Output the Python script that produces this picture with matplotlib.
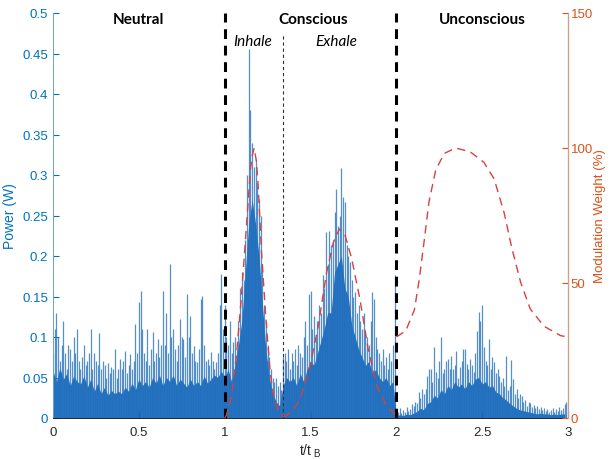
import numpy as np
import matplotlib
matplotlib.use("Agg")
import matplotlib.pyplot as plt
from matplotlib.ticker import FormatStrFormatter

plt.rcParams['font.family'] = ['Liberation Sans', 'DejaVu Sans']
plt.rcParams['mathtext.default'] = 'regular'

blue = '#0072BD'
orange = '#D95319'

# power spikes, one per 0.01 t/t_B from 0 to 2.99
power = [
    # neutral
    0.08, 0.11, 0.13, 0.10, 0.07, 0.09, 0.12, 0.08, 0.06, 0.09,
    0.085, 0.07, 0.10, 0.08, 0.11, 0.07, 0.06, 0.075, 0.09, 0.065,
    0.07, 0.08, 0.11, 0.06, 0.08, 0.07, 0.065, 0.105, 0.06, 0.07,
    0.065, 0.05, 0.068, 0.055, 0.063, 0.06, 0.085, 0.05, 0.06, 0.073,
    0.06, 0.07, 0.083, 0.055, 0.065, 0.079, 0.06, 0.07, 0.116, 0.08,
    0.143, 0.157, 0.11, 0.08, 0.07, 0.11, 0.065, 0.085, 0.106, 0.07,
    0.08, 0.097, 0.075, 0.09, 0.157, 0.09, 0.13, 0.08, 0.19, 0.10,
    0.11, 0.085, 0.07, 0.09, 0.122, 0.10, 0.097, 0.075, 0.153, 0.10,
    0.126, 0.08, 0.089, 0.07, 0.069, 0.085, 0.147, 0.151, 0.09, 0.07,
    0.073, 0.065, 0.081, 0.07, 0.06, 0.069, 0.08, 0.139, 0.178, 0.11,
    # conscious: inhale
    0.14, 0.10, 0.09, 0.12, 0.08, 0.094, 0.10, 0.085, 0.12, 0.16,
    0.18, 0.17, 0.22, 0.30, 0.455, 0.38, 0.34, 0.31, 0.32, 0.29,
    0.27, 0.25, 0.19, 0.14, 0.12, 0.09, 0.075, 0.06, 0.05, 0.045,
    0.05, 0.04, 0.045, 0.035, 0.075, 0.08, 0.07, 0.085, 0.06, 0.08,
    # conscious: exhale
    0.07, 0.085, 0.065, 0.09, 0.08, 0.075, 0.10, 0.12, 0.09, 0.153,
    0.157, 0.11, 0.126, 0.10, 0.12, 0.14, 0.13, 0.176, 0.16, 0.23,
    0.19, 0.231, 0.213, 0.22, 0.254, 0.283, 0.237, 0.25, 0.309, 0.273,
    0.267, 0.213, 0.20, 0.192, 0.17, 0.15, 0.155, 0.13, 0.14, 0.12,
    0.11, 0.13, 0.106, 0.10, 0.09, 0.12, 0.155, 0.147, 0.10, 0.085,
    0.08, 0.07, 0.085, 0.065, 0.075, 0.06, 0.08, 0.07, 0.09, 0.176,
    # unconscious
    0.01, 0.008, 0.012, 0.006, 0.01, 0.007, 0.013, 0.009, 0.011, 0.017,
    0.015, 0.02, 0.018, 0.032, 0.025, 0.036, 0.03, 0.036, 0.052, 0.06,
    0.06, 0.045, 0.088, 0.057, 0.05, 0.07, 0.10, 0.055, 0.06, 0.07,
    0.073, 0.06, 0.077, 0.06, 0.065, 0.083, 0.05, 0.063, 0.07, 0.085,
    0.085, 0.067, 0.06, 0.073, 0.065, 0.057, 0.08, 0.108, 0.131, 0.12,
    0.139, 0.088, 0.07, 0.065, 0.098, 0.06, 0.075, 0.069, 0.055, 0.06,
    0.052, 0.045, 0.05, 0.04, 0.077, 0.035, 0.04, 0.071, 0.048, 0.03,
    0.036, 0.025, 0.03, 0.027, 0.02, 0.022, 0.015, 0.02, 0.018, 0.014,
    0.016, 0.012, 0.015, 0.011, 0.013, 0.01, 0.012, 0.009, 0.011, 0.008,
    0.01, 0.012, 0.008, 0.011, 0.009, 0.013, 0.01, 0.012, 0.017, 0.02,
]

# dense lower band of the power trace, one value per 0.02 t/t_B
floor = [
    0.058, 0.045, 0.062, 0.048, 0.055, 0.04, 0.052, 0.045, 0.042, 0.052,
    0.038, 0.048, 0.033, 0.043, 0.03, 0.038, 0.028, 0.034, 0.03, 0.033,
    0.03, 0.038, 0.033, 0.043, 0.035, 0.048, 0.04, 0.045, 0.038, 0.05,
    0.043, 0.053, 0.04, 0.05, 0.045, 0.053, 0.04, 0.048, 0.043, 0.038,
    0.048, 0.04, 0.045, 0.04, 0.052, 0.043, 0.048, 0.053, 0.05, 0.058,
    0.05, 0.06, 0.045, 0.065, 0.09, 0.12, 0.18, 0.24, 0.27, 0.24,
    0.20, 0.14, 0.085, 0.05, 0.03, 0.02, 0.015, 0.04, 0.05, 0.045,
    0.05, 0.04, 0.055, 0.045, 0.06, 0.07, 0.065, 0.08, 0.095, 0.11,
    0.13, 0.13, 0.18, 0.19, 0.20, 0.16, 0.15, 0.115, 0.10, 0.085,
    0.075, 0.065, 0.07, 0.055, 0.06, 0.05, 0.045, 0.05, 0.04, 0.045,
    0.003, 0.004, 0.003, 0.005, 0.004, 0.006, 0.008, 0.012, 0.01, 0.018,
    0.02, 0.028, 0.025, 0.035, 0.03, 0.04, 0.035, 0.045, 0.038, 0.042,
    0.036, 0.045, 0.04, 0.048, 0.05, 0.042, 0.045, 0.038, 0.04, 0.032,
    0.03, 0.025, 0.022, 0.018, 0.015, 0.012, 0.01, 0.009, 0.008, 0.007,
    0.006, 0.005, 0.006, 0.005, 0.005, 0.004, 0.005, 0.004, 0.005, 0.005,
]

# modulation weight (%) for each breathing phase
inhale_t = [1.0, 1.01, 1.04, 1.07, 1.10, 1.13, 1.15, 1.16, 1.172, 1.185,
            1.195, 1.215, 1.24, 1.265, 1.285, 1.31, 1.34]
inhale_w = [0, 1, 8, 24, 47, 74, 92, 97, 100, 95, 86, 61, 37, 17, 8, 3, 0.5]
exhale_t = [1.34, 1.361, 1.40, 1.439, 1.497, 1.545, 1.594, 1.633, 1.668,
            1.70, 1.74, 1.788, 1.836, 1.885, 1.943, 1.99, 2.0]
exhale_w = [0.5, 1, 3, 7, 19, 34, 54, 65, 70, 68, 59, 44, 25.5, 12, 4.5,
            1.5, 1]
uncon_t = [2.0, 2.055, 2.105, 2.134, 2.163, 2.19, 2.23, 2.28, 2.345, 2.43,
           2.51, 2.57, 2.628, 2.674, 2.724, 2.78, 2.86, 2.957, 3.0]
uncon_w = [30, 32.3, 40, 51.5, 66, 80, 92, 98, 100, 98.6, 94.7, 88.5, 76,
           62.6, 50.3, 40.4, 34, 30.5, 30]

phase_bounds = [1.0, 2.0]
inhale_end = 1.34

t = np.arange(len(power)) * 0.01
floor_t = np.arange(len(floor)) * 0.02

fig = plt.figure(figsize=(6.1, 4.6), dpi=100)
ax = fig.add_axes([53 / 610, 1 - 419 / 460, 515 / 610, 405 / 460])
ax2 = ax.twinx()

ax.fill_between(floor_t, 0, floor, color='#1f6fbf', lw=0)
ax.vlines(t, 0, power, colors='#2a74bf', lw=0.9, alpha=0.8)

for xb in phase_bounds:
    ax.plot([xb, xb], [0, 0.5], color='black', lw=2.2,
            linestyle=(0, (3.2, 2.2)), zorder=3)
ax.plot([inhale_end, inhale_end], [0, 0.475], color='#333333', lw=0.8,
        linestyle=(0, (3, 2.5)), zorder=3)

for mt, mw in ((inhale_t, inhale_w), (exhale_t, exhale_w), (uncon_t, uncon_w)):
    ax2.plot(mt, mw, color='#d9413e', lw=1.0, linestyle=(0, (6, 4)))

txt = dict(family=['Lato', 'DejaVu Sans'], fontsize=11, ha='center',
           va='center', color='black')
ax.text(0.5, 0.492, 'Neutral', fontweight='bold', **txt)
ax.text(1.515, 0.492, 'Conscious', fontweight='bold', **txt)
ax.text(2.5, 0.492, 'Unconscious', fontweight='bold', **txt)
ax.text(1.162, 0.465, 'Inhale', style='italic', **txt)
ax.text(1.648, 0.465, 'Exhale', style='italic', **txt)

ax.set_xlim(0, 3)
ax.set_ylim(0, 0.5)
ax2.set_ylim(0, 150)
ax.set_xticks(np.arange(0, 3.01, 0.5))
ax.set_yticks(np.arange(0, 0.501, 0.05))
ax2.set_yticks([0, 50, 100, 150])
ax.xaxis.set_major_formatter(FormatStrFormatter('%g'))
ax.yaxis.set_major_formatter(FormatStrFormatter('%g'))

ax.tick_params(axis='x', direction='in', length=4, labelsize=9.5,
               colors='#262626', pad=6)
ax.tick_params(axis='y', direction='in', length=4, labelsize=9.5,
               colors=blue)
ax2.tick_params(axis='y', direction='in', length=4, labelsize=9.5,
                colors=orange, pad=2)

for a in (ax, ax2):
    a.spines['top'].set_visible(False)
ax.spines['left'].set_color('#6aa2d2')
ax.spines['bottom'].set_color('#262626')
ax2.spines['left'].set_visible(False)
ax2.spines['bottom'].set_visible(False)
ax2.spines['right'].set_color('#e2a283')
for s in ('left', 'bottom'):
    ax.spines[s].set_linewidth(0.7)
ax2.spines['right'].set_linewidth(0.7)

ax.set_xlabel('t/t$_{\\ B}$', fontsize=10, color='#262626', labelpad=2)
ax.set_ylabel('Power (W)', fontsize=10, color=blue, labelpad=4)
ax2.set_ylabel('Modulation Weight (%)', fontsize=9.5, color=orange,
               labelpad=1)

fig.savefig('out.png', dpi=100)
